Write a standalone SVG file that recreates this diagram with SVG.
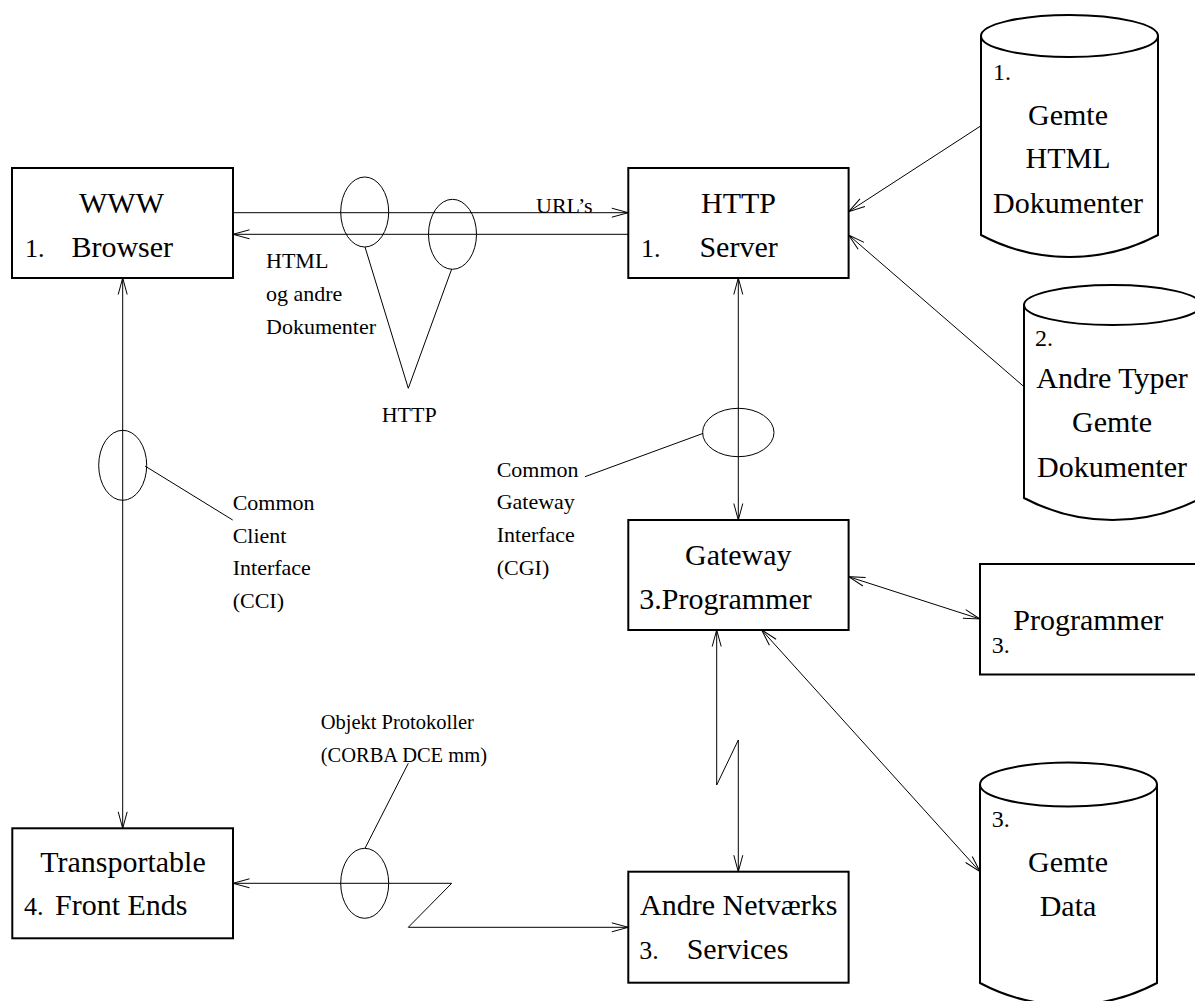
<svg xmlns="http://www.w3.org/2000/svg" width="1195" height="1001" viewBox="0 0 1195 1001">
<style>
text{font-family:"Liberation Serif","Times New Roman",serif;fill:#000}
.t{font-size:30px}
.n{font-size:26px}
.c{font-size:24px}
.s{font-size:22px}
.o{font-size:20.5px}
.m{text-anchor:middle}
.box{fill:#fff;stroke:#000;stroke-width:2}
.cyl{fill:#fff;stroke:#000;stroke-width:2}
.ln{fill:none;stroke:#000;stroke-width:1}
.ar{fill:none;stroke:#000;stroke-width:1;marker-end:url(#a)}
.ar2{fill:none;stroke:#000;stroke-width:1;marker-start:url(#a);marker-end:url(#a)}
</style>
<defs>
<marker id="a" viewBox="-18 -6 19 12" refX="0" refY="0" markerWidth="19" markerHeight="12" markerUnits="userSpaceOnUse" orient="auto-start-reverse">
<path d="M-16.5,-4.5 L0,0 L-16.5,4.5" fill="none" stroke="#000" stroke-width="1"/>
</marker>
</defs>
<rect width="1195" height="1001" fill="#fff"/>

<g id="connectors">
<path class="ar" d="M233,212.7 H628.3"/>
<path class="ar" d="M628.3,234.3 H233"/>
<path class="ar" d="M980.6,126 L848.6,211.7"/>
<path class="ar" d="M1024,386.7 L848.6,235"/>
<path class="ar2" d="M738.3,278 V520"/>
<path class="ar2" d="M122.7,278 V828.3"/>
<path class="ar2" d="M848.6,576.7 L980,619"/>
<path class="ar2" d="M761.7,630 L980,871.7"/>
<path class="ar2" d="M716.7,630 V785 L738.3,740 V871.7"/>
<path class="ar2" d="M233,883.3 H451.7 L408.3,927.3 H628.3"/>
<path class="ln" d="M365,247 L408.3,388.3 L451.7,269"/>
<path class="ln" d="M145,466 L232.7,520"/>
<path class="ln" d="M703.3,433.3 L585,476.7"/>
<path class="ln" d="M365,848.3 L408.3,763.3"/>
<ellipse class="ln" cx="364.7" cy="212" rx="24" ry="35"/>
<ellipse class="ln" cx="452.5" cy="234.3" rx="24" ry="35"/>
<ellipse class="ln" cx="122.7" cy="465.3" rx="24" ry="35"/>
<ellipse class="ln" cx="738.3" cy="432.5" rx="35.7" ry="24.2"/>
<ellipse class="ln" cx="364.7" cy="883.3" rx="24" ry="35"/>
<text class="s" x="536" y="213">URL’s</text>
<text class="s" x="266" y="268">HTML</text>
<text class="s" x="266" y="301">og andre</text>
<text class="s" x="266" y="334">Dokumenter</text>
<text class="s" x="381.7" y="421.7">HTTP</text>
<text class="s" x="232.7" y="510">Common</text>
<text class="s" x="232.7" y="542.5">Client</text>
<text class="s" x="232.7" y="575">Interface</text>
<text class="s" x="232.7" y="607.5">(CCI)</text>
<text class="s" x="496.7" y="476.7">Common</text>
<text class="s" x="496.7" y="509.3">Gateway</text>
<text class="s" x="496.7" y="542">Interface</text>
<text class="s" x="496.7" y="574.5">(CGI)</text>
<text class="o" x="320.7" y="729.3">Objekt Protokoller</text>
<text class="o" x="320.7" y="761.7">(CORBA DCE mm)</text>
</g>

<g id="browser">
<rect class="box" x="12" y="168" width="221" height="110"/>
<text class="t m" x="121.5" y="213">WWW</text>
<text class="n" x="25" y="257">1.</text>
<text class="t" x="71.4" y="257">Browser</text>
</g>

<g id="server">
<rect class="box" x="628.3" y="168" width="220.3" height="110"/>
<text class="t m" x="738.5" y="213">HTTP</text>
<text class="n" x="641" y="257">1.</text>
<text class="t" x="699.4" y="257">Server</text>
</g>

<g id="gemte-html">
<path class="cyl" d="M981,36 V235 A189,189 0 0 0 1158,235 V36"/>
<ellipse class="cyl" cx="1069.5" cy="36" rx="88.5" ry="21"/>
<text class="c" x="993" y="80">1.</text>
<text class="t m" x="1068" y="125">Gemte</text>
<text class="t m" x="1068" y="168">HTML</text>
<text class="t m" x="1068" y="213">Dokumenter</text>
</g>

<g id="andre-typer">
<path class="cyl" d="M1024,305 V498 A189,189 0 0 0 1201,498 V305"/>
<ellipse class="cyl" cx="1112.5" cy="305" rx="88.5" ry="20"/>
<text class="c" x="1035" y="346">2.</text>
<text class="t m" x="1112" y="388.3">Andre Typer</text>
<text class="t m" x="1112" y="431.7">Gemte</text>
<text class="t m" x="1112" y="476.7">Dokumenter</text>
</g>

<g id="gateway">
<rect class="box" x="628.3" y="520" width="220.3" height="110"/>
<text class="t m" x="738.3" y="565">Gateway</text>
<text class="t" x="639.3" y="609.3">3.Programmer</text>
</g>

<g id="programmer">
<rect class="box" x="980" y="564" width="230" height="110.5"/>
<text class="t" x="1013.3" y="630">Programmer</text>
<text class="c" x="991.7" y="652.7">3.</text>
</g>

<g id="gemte-data">
<path class="cyl" d="M980,784.5 V983 A189,189 0 0 0 1157,983 V784.5"/>
<ellipse class="cyl" cx="1068.5" cy="784.5" rx="88.5" ry="22"/>
<text class="c" x="991.7" y="827.3">3.</text>
<text class="t m" x="1068" y="871.7">Gemte</text>
<text class="t m" x="1068" y="916">Data</text>
</g>

<g id="transportable">
<rect class="box" x="12.3" y="828.3" width="220.7" height="110"/>
<text class="t m" x="123" y="871.7">Transportable</text>
<text class="n" x="24" y="915">4.</text>
<text class="t" x="55" y="915">Front Ends</text>
</g>

<g id="andre-netvaerks">
<rect class="box" x="628.3" y="871.7" width="220.3" height="111"/>
<text class="t m" x="738.8" y="915">Andre Netværks</text>
<text class="n" x="639.3" y="959.3">3.</text>
<text class="t" x="686.7" y="959.3">Services</text>
</g>
</svg>
